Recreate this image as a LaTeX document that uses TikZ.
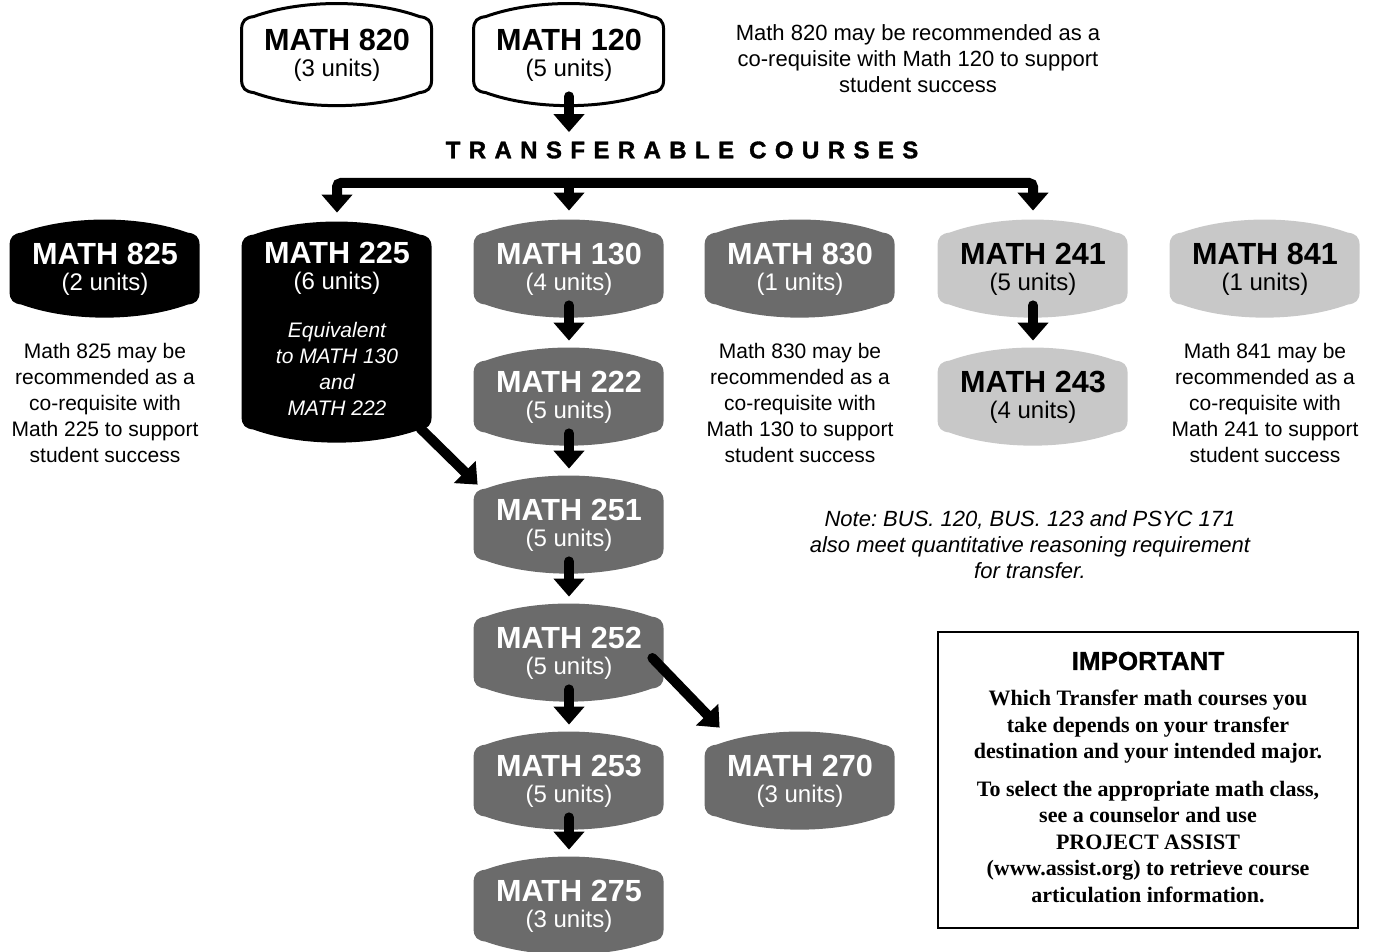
\documentclass[tikz,border=0pt]{standalone}
\usepackage{fontspec}
\setmainfont{Liberation Sans}
\newfontfamily\boxserif{Liberation Serif}
\newfontfamily\spacedsans[LetterSpace=35,FakeBold=1.5]{Liberation Sans}
\newfontfamily\heavysans[FakeBold=1]{Liberation Sans}
\usetikzlibrary{calc,positioning,arrows.meta,backgrounds}
\frenchspacing

\definecolor{darkbox}{RGB}{107,107,107}
\definecolor{lightbox}{RGB}{200,200,200}

\newcommand\titlef{\fontsize{15.3}{15}\selectfont\bfseries}
\newcommand\eqf{\itshape\fontsize{10.5}{13.25}\selectfont}
\newcommand\coursetext[2]{{\titlef #1}\\#2}

% rounded box with bulging top and bottom, drawn round a node
\newcommand\pillow[3]{%
  \begin{scope}[shift={(#1.north west)},x=1pt,y=1pt]
    \path[#3] (0,-13) .. controls (0,-8.5) and (2,-7) .. (6,-6.5)
      .. controls (30,2.2) and (65,2.2) .. (89,-6.5)
      .. controls (93,-7) and (95,-8.5) .. (95,-13)
      -- (95,{-#2+13})
      .. controls (95,{-#2+8.5}) and (93,{-#2+7}) .. (89,{-#2+6.5})
      .. controls (65,{-#2-2.2}) and (30,{-#2-2.2}) .. (6,{-#2+6.5})
      .. controls (2,{-#2+7}) and (0,{-#2+8.5}) .. (0,{-#2+13}) -- cycle;
  \end{scope}}

\tikzset{
  course/.style={minimum width=95pt, minimum height=49pt, inner sep=0pt,
    align=center, font=\fontsize{12}{13}\selectfont},
  oncolor/.style={text=white},
  note/.style={align=center, inner sep=0pt, font=\fontsize{10.5}{13}\selectfont},
  fillwhite/.style={fill=white, draw=black, line width=1.5pt},
  fillblack/.style={fill=black},
  filldark/.style={fill=darkbox},
  filllight/.style={fill=lightbox},
  bigtip/.tip={Triangle[width=15pt,length=9pt]},
  fatarrow/.style={line width=5pt, line cap=round, -{bigtip}}
}

\begin{document}
\begin{tikzpicture}[x=0.5pt,y=-0.5pt]
  \useasboundingbox (0,0) rectangle (1381,952);

  % courses
  \node[course, minimum height=51pt] (m820) at (337,55) {\coursetext{MATH 820}{(3 units)}};
  \node[course, minimum height=51pt] (m120) at (569,55) {\coursetext{MATH 120}{(5 units)}};

  \node[course, oncolor] (m825) at (105,269) {\coursetext{MATH 825}{(2 units)}};
  \node[course, oncolor, minimum height=110.5pt, text depth=4pt] (m225) at (337,332.5)
    {\coursetext{MATH 225}{(6 units)}\\[11pt]
     {\eqf Equivalent}\\{\eqf to MATH 130}\\{\eqf and}\\{\eqf MATH 222}};
  \node[course, oncolor] (m130) at (569,269) {\coursetext{MATH 130}{(4 units)}};
  \node[course, oncolor] (m830) at (800,269) {\coursetext{MATH 830}{(1 units)}};
  \node[course] (m241) at (1033,269) {\coursetext{MATH 241}{(5 units)}};
  \node[course] (m841) at (1265,269) {\coursetext{MATH 841}{(1 units)}};

  \node[course, oncolor] (m222) at (569,397) {\coursetext{MATH 222}{(5 units)}};
  \node[course] (m243) at (1033,397) {\coursetext{MATH 243}{(4 units)}};
  \node[course, oncolor] (m251) at (569,525) {\coursetext{MATH 251}{(5 units)}};
  \node[course, oncolor] (m252) at (569,653) {\coursetext{MATH 252}{(5 units)}};
  \node[course, oncolor] (m253) at (569,781) {\coursetext{MATH 253}{(5 units)}};
  \node[course, oncolor] (m270) at (800,781) {\coursetext{MATH 270}{(3 units)}};
  \node[course, oncolor] (m275) at (569,906) {\coursetext{MATH 275}{(3 units)}};

  \begin{scope}[on background layer]
    \foreach \n/\h/\s in {m820/51/fillwhite, m120/51/fillwhite, m825/49/fillblack,
        m225/110.5/fillblack, m130/49/filldark, m830/49/filldark, m241/49/filllight,
        m841/49/filllight, m222/49/filldark, m243/49/filllight, m251/49/filldark,
        m252/49/filldark, m253/49/filldark, m270/49/filldark, m275/49/filldark}
      {\pillow{\n}{\h}{\s}}
  \end{scope}

  % labels
  \node[inner sep=0pt, font=\spacedsans\bfseries\fontsize{12}{12}\selectfont]
    (transfer) at (682,150) {TRANSFERABLE COURSES};

  \node[note, font=\fontsize{11}{13}\selectfont] (n820) at (918,59)
    {Math 820 may be recommended as a\\co-requisite with Math 120 to support\\student success};
  \node[note, below=12pt of m825] (n825) {Math 825 may be\\recommended as a\\co-requisite with\\Math 225 to support\\student success};
  \node[note, below=12pt of m830] (n830) {Math 830 may be\\recommended as a\\co-requisite with\\Math 130 to support\\student success};
  \node[note, below=12pt of m841] (n841) {Math 841 may be\\recommended as a\\co-requisite with\\Math 241 to support\\student success};
  \node[note, font=\fontsize{11}{13}\selectfont\itshape] (busnote) at (1030,545)
    {Note: BUS. 120, BUS. 123 and PSYC 171\\also meet quantitative reasoning requirement\\for transfer.};

  \node[draw, line width=0.6pt, minimum width=210pt, minimum height=148pt, inner sep=0pt]
    (important) at (1148,780) {};
  \node[below=10pt of important.north, inner sep=0pt, font=\heavysans\bfseries\fontsize{13}{13}\selectfont]
    (imphead) {IMPORTANT};
  \node[note, below=9.5pt of imphead, font=\boxserif\bfseries\fontsize{11}{13.25}\selectfont]
    (impbody) {Which Transfer math courses you\\take depends on your transfer\\destination and your intended major.\\[5.5pt]
      To select the appropriate math class,\\see a counselor and use\\PROJECT ASSIST\\(www.assist.org) to retrieve course\\articulation information.};

  % arrows
  \coordinate (bar) at (569,183);
  \draw[fatarrow] ($(m120.south)+(0,-10)$) -- ($(transfer.north -| m120)+(0,-9)$);
  \draw[fatarrow] (bar) -- ($(m130.north)+(0,-9)$);
  \draw[line width=5pt, {bigtip}-{bigtip}, rounded corners=2pt]
    ($(m225.north)+(0,-9)$) |- (bar) -| ($(m241.north)+(0,-9)$);

  \foreach \a/\b in {m130/m222, m222/m251, m251/m252, m252/m253, m253/m275, m241/m243}
    \draw[fatarrow] ($(\a.south)+(0,-13)$) -- ($(\b.north)+(0,-7)$);

  \draw[fatarrow] ($(m225.south east)+(-12,-15)$) -- ($(m251.north west)+(4,9)$);
  \draw[fatarrow] ($(m252.east)+(-12,5)$) -- ($(m270.north west)+(15,-4)$);
\end{tikzpicture}
\end{document}
